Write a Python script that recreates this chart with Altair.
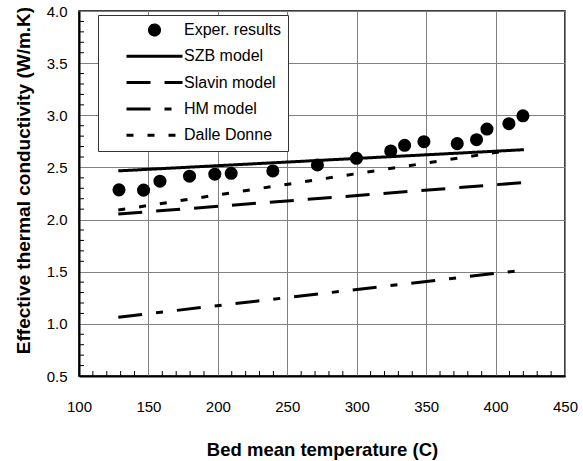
import altair as alt
import pandas as pd

# ---- data ----
series_names = ["Exper. results", "SZB model", "Slavin model", "HM model", "Dalle Donne"]

exp_T = [128.8, 146.5, 158.3, 179.6, 197.8, 209.6, 239.6, 271.7, 299.8,
         324.5, 334.5, 348.4, 372.4, 386.3, 393.8, 409.6, 419.7]
exp_k = [2.285, 2.282, 2.368, 2.416, 2.435, 2.444, 2.466, 2.524, 2.588,
         2.658, 2.712, 2.747, 2.728, 2.766, 2.868, 2.919, 2.995]

szb_T = [128.3, 420.4]
szb_k = [2.467, 2.670]
slavin_T = [128.3, 420.4]
slavin_k = [2.053, 2.355]
hm_T = [128.3, 420.0]
hm_k = [1.064, 1.515]
dd_T = [128.3, 410.0]
dd_k = [2.091, 2.664]

x_ticks = [100, 150, 200, 250, 300, 350, 400, 450]
y_ticks = [0.5, 1.0, 1.5, 2.0, 2.5, 3.0, 3.5, 4.0]
x_minor = [v for v in range(110, 450, 10) if v % 50 != 0]
y_minor = [round(0.5 + 0.1 * i, 1) for i in range(1, 35) if (i % 5) != 0]

# ---- styles ----
dash_range = [[1, 0], [1, 0], [24, 14], [24, 14, 7, 14], [7, 14]]
circle_path = "M0.18,0 A0.18,0.18 0 1,1 -0.18,0 A0.18,0.18 0 1,1 0.18,0 Z"
shape_range = [circle_path, "stroke", "stroke", "stroke", "stroke"]
stroke_range = ["black"] * 5
FONT = "Liberation Sans"

exp_df = pd.DataFrame({"T": exp_T, "k": exp_k, "series": series_names[0]})
lines_df = pd.concat([
    pd.DataFrame({"T": szb_T, "k": szb_k, "series": series_names[1]}),
    pd.DataFrame({"T": slavin_T, "k": slavin_k, "series": series_names[2]}),
    pd.DataFrame({"T": hm_T, "k": hm_k, "series": series_names[3]}),
    pd.DataFrame({"T": dd_T, "k": dd_k, "series": series_names[4]}),
], ignore_index=True)
xminor_df = pd.DataFrame({"T": x_minor})
yminor_df = pd.DataFrame({"k": y_minor})

x_scale = alt.Scale(domain=[100, 450], nice=False, zero=False)
y_scale = alt.Scale(domain=[0.5, 4.0], nice=False, zero=False)

x_axis = alt.Axis(values=x_ticks, grid=True, gridColor="#808080", gridWidth=1,
                  ticks=False, domainColor="black", domainWidth=2,
                  labelFont=FONT, labelFontSize=15, labelColor="black",
                  labelPadding=23, labelFlush=False, labelOverlap=False,
                  title="Bed mean temperature (C)", titleFont=FONT,
                  titleFontSize=18.5, titleFontWeight="bold", titleColor="black",
                  titleY=73, titleBaseline="middle")
y_axis = alt.Axis(values=y_ticks, format=".1f", grid=True, gridColor="#808080",
                  gridWidth=1, ticks=False, domainColor="black", domainWidth=2,
                  labelFont=FONT, labelFontSize=15, labelColor="black",
                  labelPadding=12, labelFlush=False, labelOverlap=False,
                  title="Effective thermal conductivity (W/m.K)", titleFont=FONT,
                  titleFontSize=19, titleFontWeight="bold", titleColor="black",
                  titleX=-56, titleY=169, titleBaseline="middle", titleAlign="center")

legend = alt.Legend(title=None, orient="none", legendX=19, legendY=4,
                    direction="vertical", padding=7, fillColor="white",
                    strokeColor="#333333", symbolSize=3136, symbolStrokeWidth=3,
                    symbolFillColor="black", symbolStrokeColor="black",
                    symbolOffset=20, labelOffset=0, clipHeight=16,
                    rowPadding=10.3, labelFont=FONT, labelFontSize=16,
                    labelColor="black", labelLimit=300)

stroke_enc = alt.Stroke("series:N", scale=alt.Scale(domain=series_names, range=stroke_range),
                        legend=legend)

lines = alt.Chart(lines_df).mark_line(strokeWidth=3, strokeCap="butt").encode(
    x=alt.X("T:Q", scale=x_scale, axis=x_axis),
    y=alt.Y("k:Q", scale=y_scale, axis=y_axis),
    stroke=stroke_enc,
    strokeDash=alt.StrokeDash("series:N", scale=alt.Scale(domain=series_names, range=dash_range),
                              legend=legend),
)

points = alt.Chart(exp_df).mark_point(filled=True, size=3136, fill="black",
                                      strokeWidth=3, opacity=1).encode(
    x=alt.X("T:Q", scale=x_scale),
    y=alt.Y("k:Q", scale=y_scale),
    stroke=stroke_enc,
    shape=alt.Shape("series:N", scale=alt.Scale(domain=series_names, range=shape_range),
                    legend=legend),
)

xminor = alt.Chart(xminor_df).mark_rule(color="black", strokeWidth=1).encode(
    x=alt.X("T:Q", scale=x_scale),
    y=alt.value(365), y2=alt.value(360),
)
yminor = alt.Chart(yminor_df).mark_rule(color="black", strokeWidth=1).encode(
    y=alt.Y("k:Q", scale=y_scale),
    x=alt.value(0), x2=alt.value(5),
)

chart = alt.layer(xminor, yminor, lines, points).properties(
    width=486, height=365,
    padding={"left": 79, "top": 11, "right": 18, "bottom": 85},
    autosize=alt.AutoSizeParams(type="none"),
    background="white",
).configure_view(stroke="black", strokeWidth=1.5)

chart.save("out.html", embed_options={"renderer": "svg", "actions": False})
